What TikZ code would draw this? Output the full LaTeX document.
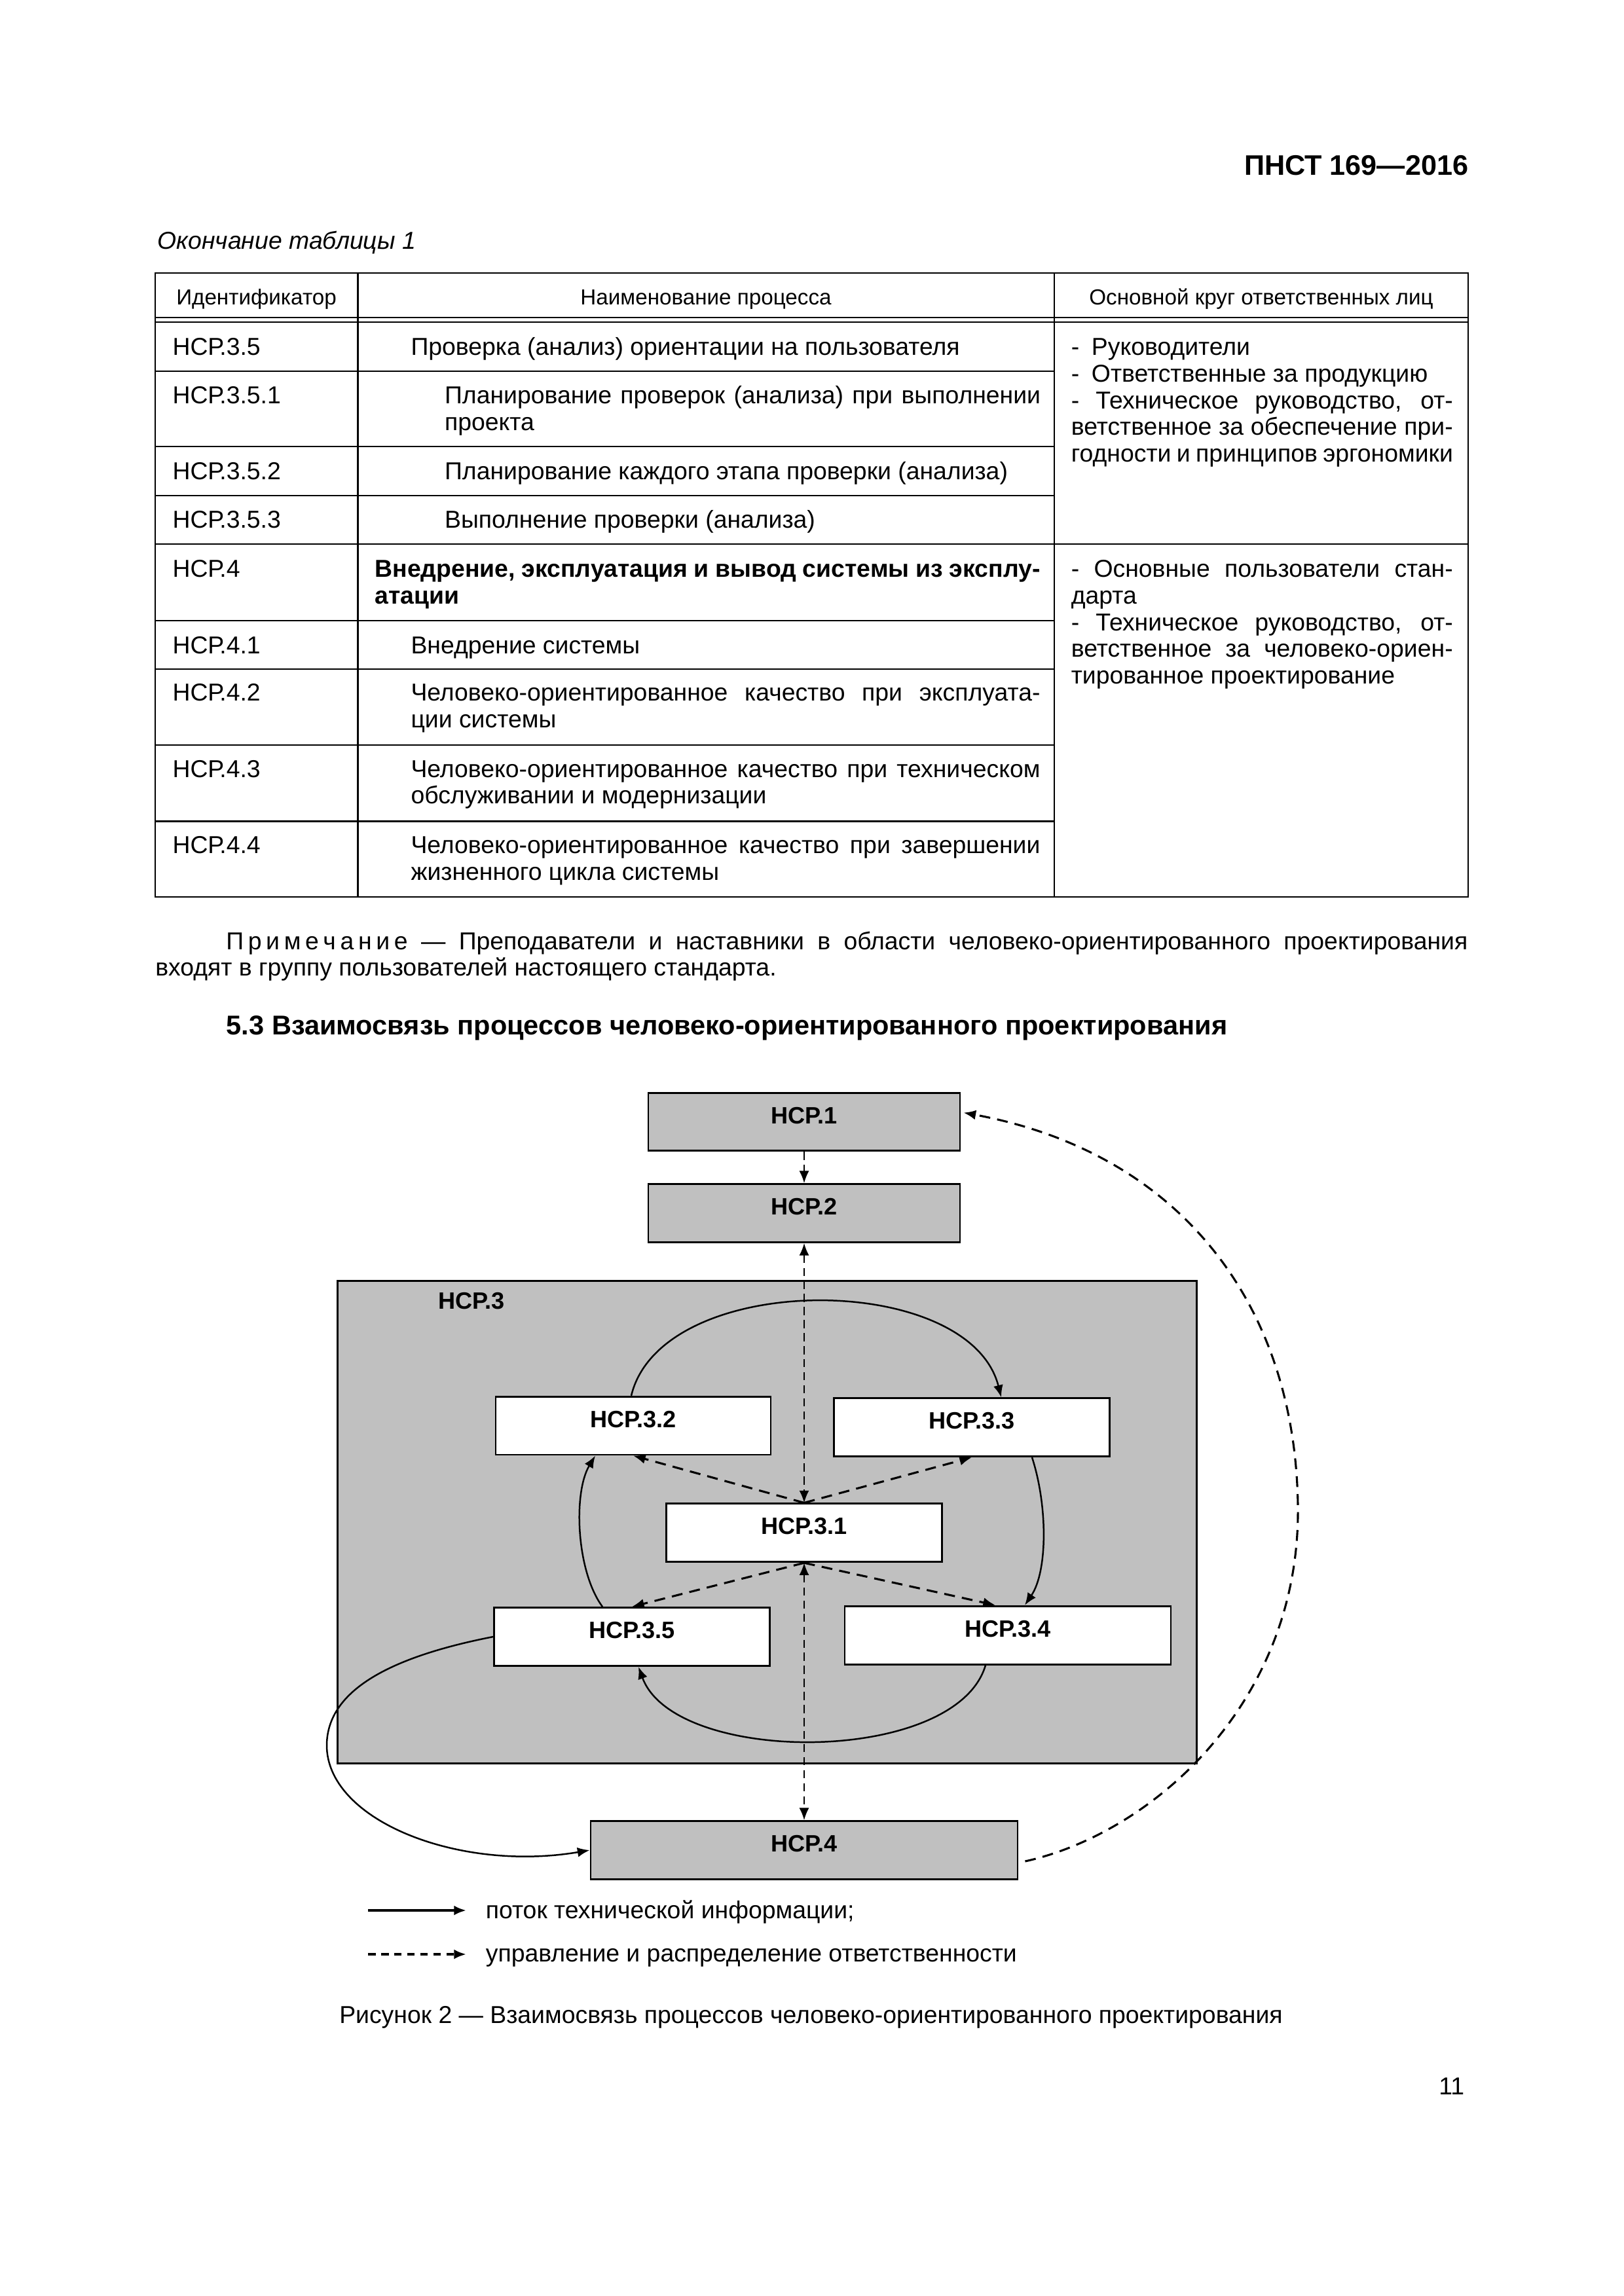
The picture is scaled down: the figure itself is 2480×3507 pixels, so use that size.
\documentclass[tikz,border=0pt]{standalone}
\usepackage{fontspec}
\setmainfont{Liberation Sans}
\usetikzlibrary{arrows, arrows.meta}
\usetikzlibrary{calc}

\definecolor{boxgray}{RGB}{192,192,192}
\newlength{\px}
\setlength{\px}{0.0846774mm}
\newcommand{\bodyfont}{\fontsize{9}{9.8}\selectfont\hyphenpenalty=10000\exhyphenpenalty=10000}
\newcommand{\boxfont}{\fontsize{8.7}{9.5}\selectfont\bfseries}

\tikzset{
  >={Latex[length=4.5pt,width=3.6pt]},
  proc/.style={draw, line width=0.7pt, fill=boxgray, inner xsep=0pt, inner ysep=5.5pt,
    text height=5.8pt, text depth=4.6pt, font=\boxfont},
  subproc/.style={proc, fill=white},
  flow/.style={->, line width=0.6pt},
  ctrl/.style={->, line width=0.75pt, dash pattern=on 4pt off 2.6pt},
  axisline/.style={line width=0.45pt, dash pattern=on 3pt off 1.8pt},
  cell/.style={inner sep=0pt, anchor=base west, font=\bodyfont},
  jcell/.style={cell, align=justify, text width=#1},
  thead/.style={inner sep=0pt, anchor=base, font=\fontsize{8}{9}\selectfont},
  tline/.style={line width=0.55pt},
}

\begin{document}
\begin{tikzpicture}[x=\px, y=-\px]
\fill[white] (0,0) rectangle (2480,3507);
\useasboundingbox (0,0) rectangle (2480,3507);

% page head
\node[cell, anchor=base east, font=\fontsize{10.4}{12}\selectfont\bfseries] (head) at (2243,267) {ПНСТ 169—2016};
\node[cell, font=\bodyfont\itshape] (tabcap) at (240,380) {Окончание таблицы 1};

% table 1 (end)
\draw[tline] (237,417) rectangle (2242,1370);
\draw[tline] (237,485) -- (2242,485) (237,492) -- (2242,492);
\draw[tline] (546.5,417) -- (546.5,1370) (1610,417) -- (1610,1370);
\foreach \y in {567,682,757,948,1022,1138,1254.5}
  \draw[tline] (237,\y) -- (1610,\y);
\draw[tline] (237,831) -- (2242,831);

\node[thead] (th1) at (391.5,465.7) {Идентификатор};
\node[thead] (th2) at (1078,465.7) {Наименование процесса};
\node[thead] (th3) at (1926,465.7) {Основной круг ответственных лиц};

\foreach \id/\y [count=\i] in {3.5/542.7, 3.5.1/616.7, 3.5.2/732.3, 3.5.3/806, 4/881.7,
    4.1/998, 4.2/1070.8, 4.3/1187, 4.4/1303.5}
  \node[cell] (id\i) at (262.7,\y) {НСР.\id};

\node[cell] (n35) at (626.7,542.7) {Проверка (анализ) ориентации на пользователя};
\node[jcell=910\px] (n351) at (678.3,616.7) {Планирование проверок (анализа) при выполнении\linebreak проекта};
\node[cell] (n352) at (678.3,732.3) {Планирование каждого этапа проверки (анализа)};
\node[cell] (n353) at (678.3,806) {Выполнение проверки (анализа)};
\node[jcell=1016\px, font=\bodyfont\bfseries] (n4) at (571.7,881.7) {Внедрение, эксплуатация и вывод системы из эксплу-\linebreak атации};
\node[cell] (n41) at (626.7,998) {Внедрение системы};
\node[jcell=961\px] (n42) at (626.7,1070.8) {Человеко-ориентированное качество при эксплуата-\linebreak ции системы};
\node[jcell=961\px] (n43) at (626.7,1187) {Человеко-ориентированное качество при техническом\linebreak обслуживании и модернизации};
\node[jcell=961\px] (n44) at (626.7,1303.5) {Человеко-ориентированное качество при завершении\linebreak жизненного цикла системы};

\node[jcell=583\px] (who35) at (1635,542.7) {-\hspace{4.5pt}Руководители\\-\hspace{4.5pt}Ответственные за продукцию\\- Техническое руководство, от-\linebreak ветственное за обеспечение при-\linebreak годности и принципов эргономики};
\node[jcell=583\px] (who4) at (1635,881.7) {- Основные пользователи стан-\linebreak дарта\\- Техническое руководство, от-\linebreak ветственное за человеко-ориен-\linebreak тированное проектирование};

% note and heading
\node[jcell=2004\px] (note) at (236.5,1450) {\hspace*{108\px}П\kern1.6pt р\kern1.6pt и\kern1.6pt м\kern1.6pt е\kern1.6pt ч\kern1.6pt а\kern1.6pt н\kern1.6pt и\kern1.6pt е — Преподаватели и наставники в области человеко-ориентированного проектирования\linebreak входят в группу пользователей настоящего стандарта.};
\node[cell, font=\fontsize{10}{12}\selectfont\bfseries] (sec) at (345,1580) {5.3 Взаимосвязь процессов человеко-ориентированного проектирования};

% figure 2
\node[draw, line width=0.7pt, fill=boxgray, minimum width=1312\px, minimum height=737\px, inner sep=0pt, anchor=north west] (p3) at (514,1955) {};
\node[cell, font=\boxfont] (p3name) at (669,1999.7) {НСР.3};

\node[proc, minimum width=476\px] (p1) at (1228,1713.5) {НСР.1};
\node[proc, minimum width=476\px] (p2) at (1228,1853) {НСР.2};
\node[subproc, minimum width=420\px] (p32) at (967,2177.6) {НСР.3.2};
\node[subproc, minimum width=421\px] (p33) at (1484,2180.2) {НСР.3.3};
\node[subproc, minimum width=421\px] (p31) at (1228,2341.3) {НСР.3.1};
\node[subproc, minimum width=421\px] (p35) at (965,2500) {НСР.3.5};
\node[subproc, minimum width=498\px] (p34) at (1539,2497.6) {НСР.3.4};
\node[proc, minimum width=652\px] (p4) at (1228,2826) {НСР.4};

\draw[axisline, ->] (p1) -- (p2);
\draw[axisline, <->] (p2) -- (p31);
\draw[axisline, <->] (p31) -- (p4);
\draw[ctrl] (p31.north) -- (p32.south);
\draw[ctrl] (p31.north) -- (p33.south);
\draw[ctrl] (p31.south) -- (p35.north);
\draw[ctrl] (p31.south) -- ($(p34.north)+(-19,0)$);

\draw[flow] ($(p32.north)+(-3,0)$) .. controls (1010,1940) and (1480,1940) .. ($(p33.north)+(45,0)$);
\draw[flow] ($(p33.south)+(92,0)$) .. controls (1600,2300) and (1600,2400) .. ($(p34.north)+(26,0)$);
\draw[flow] ($(p34.south)+(-34,0)$) .. controls (1460,2697) and (1030,2697) .. ($(p35.south)+(10,0)$);
\draw[flow] ($(p35.north)+(-45,0)$) .. controls (880,2400) and (875,2280) .. ($(p32.south)+(-58,0)$);
\draw[flow] (p35.west) .. controls (600,2530) and (500,2580) .. (499,2665) .. controls (498,2780) and (700,2860) .. (p4.west);
\draw[ctrl] ($(p4.east)+(10,17)$) .. controls (1760,2800) and (1986,2600) .. (1982,2300) .. controls (1978,1990) and (1800,1760) .. ($(p1.east)+(4,-14)$);

% legend
\coordinate (l1a) at (562,2918);
\coordinate (l1b) at (712,2918);
\draw[flow, line width=0.9pt] (l1a) -- (l1b);
\node[cell] (l1txt) at (741,2930) {поток технической информации;};
\coordinate (l2a) at (562,2985);
\coordinate (l2b) at (712,2985);
\draw[->, line width=0.9pt, dash pattern=on 2.8pt off 2pt] (l2a) -- (l2b);
\node[cell] (l2txt) at (741,2996.7) {управление и распределение ответственности};

\node[cell, anchor=base] (figcap) at (1238.5,3090) {Рисунок 2 — Взаимосвязь процессов человеко-ориентированного проектирования};
\node[cell, anchor=base east] (pageno) at (2237,3199) {11};
\end{tikzpicture}
\end{document}
